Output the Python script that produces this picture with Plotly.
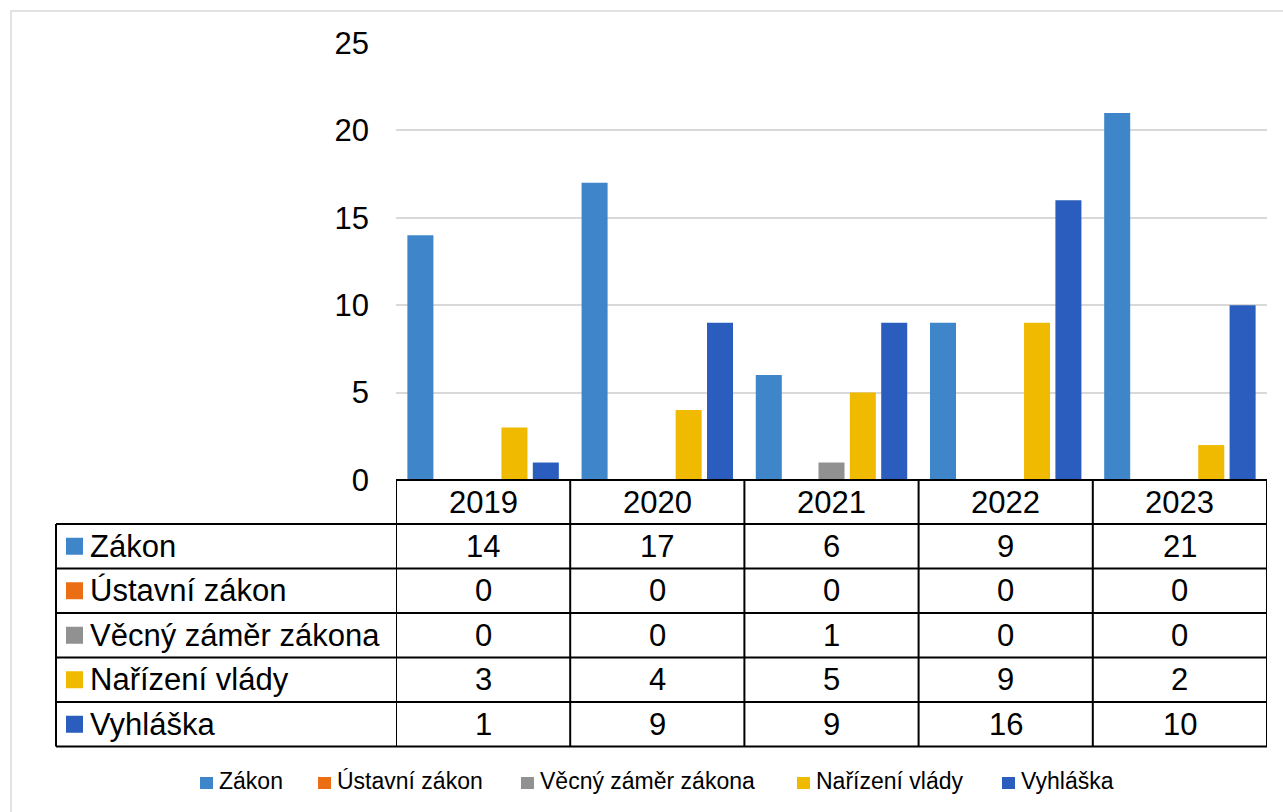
import plotly.graph_objects as go

years = ["2019", "2020", "2021", "2022", "2023"]
series_names = ["Zákon", "Ústavní zákon", "Věcný záměr zákona", "Nařízení vlády", "Vyhláška"]
zakon = [14, 17, 6, 9, 21]
ustavni_zakon = [0, 0, 0, 0, 0]
vecny_zamer = [0, 0, 1, 0, 0]
narizeni_vlady = [3, 4, 5, 9, 2]
vyhlaska = [1, 9, 9, 16, 10]
y_ticks = [0, 5, 10, 15, 20, 25]

series_values = [zakon, ustavni_zakon, vecny_zamer, narizeni_vlady, vyhlaska]
colors = ["#3E86C9", "#EB6E14", "#919191", "#F0BA00", "#2A5DBD"]

W, H = 1283, 812
L, R, T, B = 396, 1267, 43, 480
FONT = "Liberation Sans, Arial, sans-serif"
TABLE_FONT = 31
LEGEND_FONT = 23
legend_item_left = [200, 318, 521, 797, 1002]   # pixel layout of the legend entries
legend_y = 781


def px(p):
    return (p - L) / (R - L)


def py(p):
    return (B - p) / (B - T)


fig = go.Figure()
for name, vals, col in zip(series_names, series_values, colors):
    fig.add_trace(go.Bar(x=years, y=vals, name=name, marker=dict(color=col, line=dict(width=0)),
                         showlegend=False))

shapes = []
annotations = []
line_style = dict(color="black", width=2)

# Table geometry (pixels)
row_lines = [524, 568.5, 613, 657.5, 702, 746.5]
label_left = 56
ncol = len(years)

# horizontal lines
shapes.append(dict(type="line", xref="paper", yref="paper", x0=0, x1=1, y0=py(B), y1=py(B), line=line_style))
for yl in row_lines:
    shapes.append(dict(type="line", xref="paper", yref="paper", x0=px(label_left), x1=1, y0=py(yl), y1=py(yl), line=line_style))
# vertical lines
shapes.append(dict(type="line", xref="paper", yref="paper", x0=px(label_left), x1=px(label_left),
                   y0=py(row_lines[0]), y1=py(row_lines[-1]), line=line_style))
for k in range(ncol + 1):
    shapes.append(dict(type="line", xref="x", yref="paper", x0=k - 0.5, x1=k - 0.5,
                       y0=py(B), y1=py(row_lines[-1]), line=line_style))

# header years
for j, yr in enumerate(years):
    annotations.append(dict(x=j, xref="x", y=py((B + row_lines[0]) / 2), yref="paper", text=yr,
                            showarrow=False, font=dict(family=FONT, size=TABLE_FONT, color="black"),
                            xanchor="center", yanchor="middle"))

# rows
for i, (name, vals, col) in enumerate(zip(series_names, series_values, colors)):
    yc = (row_lines[i] + row_lines[i + 1]) / 2
    shapes.append(dict(type="rect", xref="paper", yref="paper", x0=px(66), x1=px(83),
                       y0=py(yc - 8.5), y1=py(yc + 8.5), fillcolor=col, line=dict(width=0)))
    annotations.append(dict(x=px(88), xref="paper", y=py(yc), yref="paper", text=name,
                            showarrow=False, font=dict(family=FONT, size=TABLE_FONT, color="black"),
                            xanchor="left", yanchor="middle"))
    for j, v in enumerate(vals):
        annotations.append(dict(x=j, xref="x", y=py(yc), yref="paper", text=str(v),
                                showarrow=False, font=dict(family=FONT, size=TABLE_FONT, color="black"),
                                xanchor="center", yanchor="middle"))

# legend (drawn as squares + text)
for name, col, lx in zip(series_names, colors, legend_item_left):
    shapes.append(dict(type="rect", xref="paper", yref="paper", x0=px(lx), x1=px(lx + 13),
                       y0=py(legend_y - 4), y1=py(legend_y + 8), fillcolor=col, line=dict(width=0)))
    annotations.append(dict(x=px(lx + 17), xref="paper", y=py(legend_y), yref="paper", text=name,
                            showarrow=False, font=dict(family=FONT, size=LEGEND_FONT, color="black"),
                            xanchor="left", yanchor="middle"))

# outer chart border
shapes.append(dict(type="rect", xref="paper", yref="paper", x0=px(11), x1=px(1300), y0=py(11), y1=py(830),
                   line=dict(color="#D9D9D9", width=1.5), fillcolor="rgba(0,0,0,0)", layer="below"))

fig.update_layout(
    width=W, height=H, autosize=False,
    margin=dict(l=L, r=W - R, t=T, b=H - B, pad=0),
    paper_bgcolor="white", plot_bgcolor="white",
    barmode="group", bargap=0.1, bargroupgap=0.17,
    font=dict(family=FONT, color="black"),
    shapes=shapes, annotations=annotations,
    showlegend=False,
    xaxis=dict(type="category", showticklabels=False, showgrid=False, zeroline=False, showline=False,
               ticks="", range=[-0.5, 4.5]),
    yaxis=dict(range=[0, 25], tickvals=y_ticks, showgrid=True, gridcolor="#D9D9D9", gridwidth=1.5,
               zeroline=False, showline=False, ticks="", ticklabelstandoff=26,
               tickfont=dict(family=FONT, size=TABLE_FONT, color="black")),
)

fig.write_html("out.html", config={"displayModeBar": False},
               post_script="document.body.style.margin='0';")
